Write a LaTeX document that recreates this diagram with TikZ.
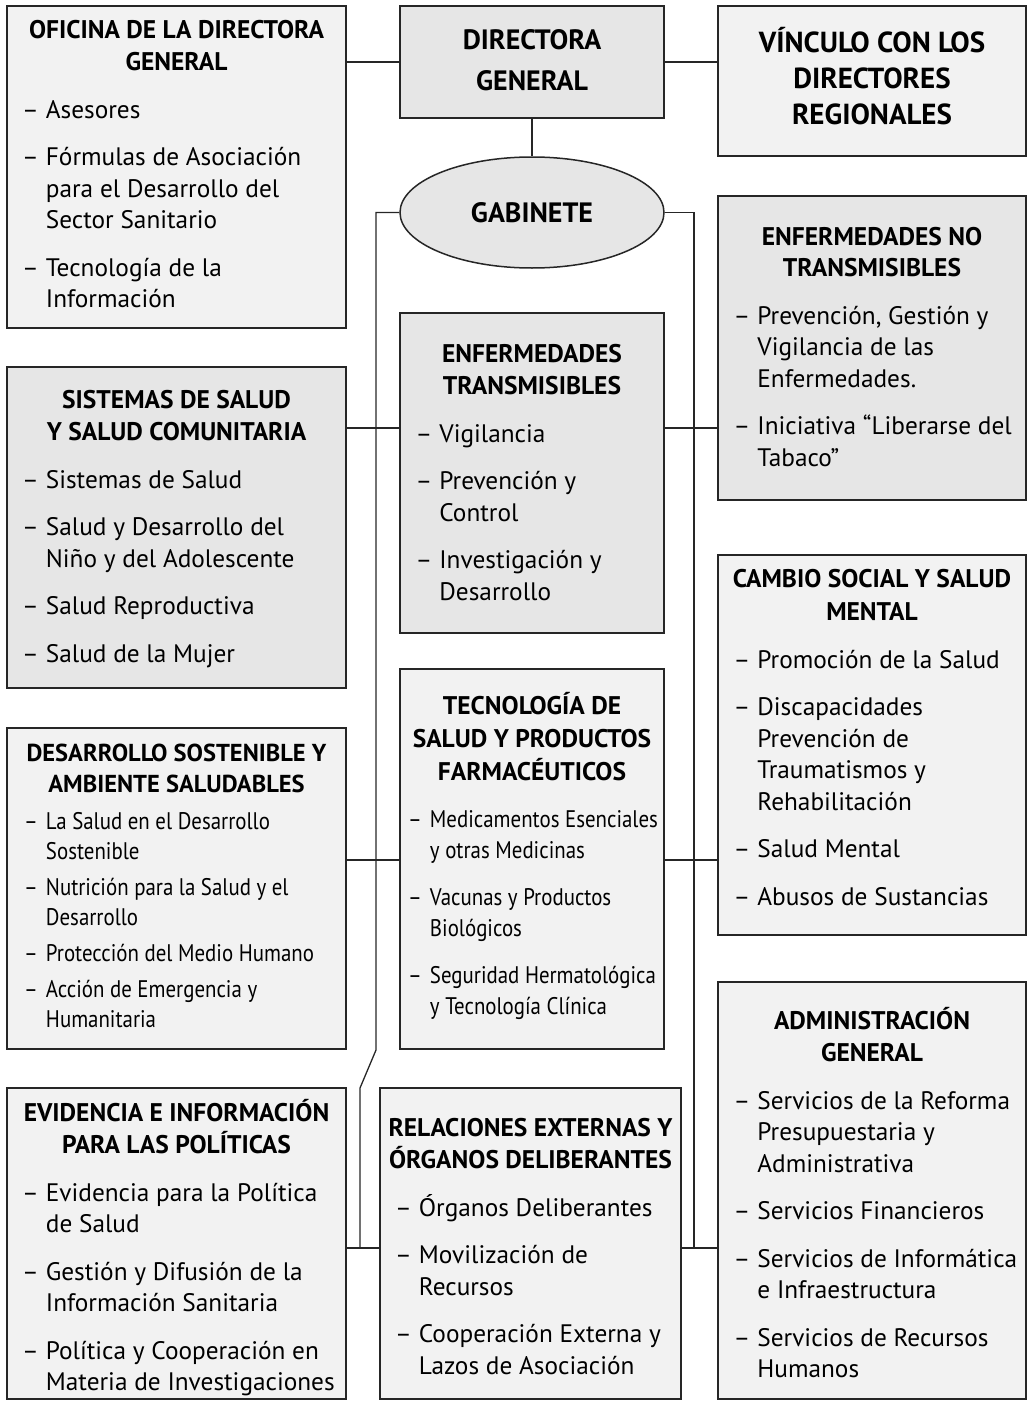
\documentclass[tikz,border=0pt]{standalone}
\usepackage{fontspec}
\setmainfont{PT Sans}
\newfontfamily\condfont{PT Sans}[FakeStretch=0.87]
\usetikzlibrary{shapes.geometric}
\definecolor{dkfill}{HTML}{E6E6E6}
\definecolor{ltfill}{HTML}{F2F2F2}
\newcommand\ttl[1]{\begin{tabular}[t]{@{}c@{}}#1\end{tabular}}
\newcommand\itms[1]{\begin{tabular}[t]{@{}l@{\hspace{7pt}}l@{}}#1\end{tabular}}
\newcommand\citms[1]{\begin{tabular}[t]{@{}l@{\hspace{8pt}}l@{}}#1\end{tabular}}
\newcommand\nx{\\[16pt]}
\begin{document}
\begin{tikzpicture}[x=1pt,y=-1pt,
  box/.style={draw=black!85, line width=1.5pt, rectangle, anchor=north west, inner sep=0pt, outer sep=0pt},
  title/.style={anchor=base, inner sep=0pt, font=\bfseries\fontsize{25.5}{32}\selectfont},
  body/.style={anchor=base west, inner sep=0pt, font=\fontsize{25.3}{31.5}\selectfont},
  cbody/.style={anchor=base west, inner sep=0pt, font=\condfont\fontsize{24}{31.5}\selectfont},
  conn/.style={draw=black!85, line width=1.3pt}]
\useasboundingbox (0,0) rectangle (1027,1402);

% boxes
\node[box, fill=ltfill, minimum width=339pt, minimum height=322pt] (ofi) at (7,6) {};
\node[box, fill=dkfill, minimum width=264pt, minimum height=112pt] (dir) at (400,6) {};
\node[box, fill=ltfill, minimum width=308pt, minimum height=150pt] (vin) at (718,6) {};
\node[ellipse, draw=black!85, line width=1.5pt, fill=dkfill, minimum width=264pt, minimum height=111pt, inner sep=0pt, font=\bfseries\fontsize{28}{32}\selectfont] (gab) at (532,212.5) {GABINETE};
\node[box, fill=dkfill, minimum width=308pt, minimum height=304pt] (ent) at (718,196) {};
\node[box, fill=dkfill, minimum width=339pt, minimum height=321pt] (sis) at (7,367) {};
\node[box, fill=dkfill, minimum width=264pt, minimum height=320pt] (et) at (400,313) {};
\node[box, fill=ltfill, minimum width=264pt, minimum height=380pt] (tec) at (400,669) {};
\node[box, fill=ltfill, minimum width=308pt, minimum height=380pt] (cam) at (718,555) {};
\node[box, fill=ltfill, minimum width=339pt, minimum height=321pt] (des) at (7,728) {};
\node[box, fill=ltfill, minimum width=339pt, minimum height=311pt] (evi) at (7,1088) {};
\node[box, fill=ltfill, minimum width=301pt, minimum height=311pt] (rel) at (380,1088) {};
\node[box, fill=ltfill, minimum width=308pt, minimum height=417pt] (adm) at (718,982) {};

% texts
\node[title] (ofiT) at (176.5,39) {\ttl{OFICINA DE LA DIRECTORA\\GENERAL}};
\node[body] (ofiB) at (22,118) {\itms{– & Asesores\nx – & Fórmulas de Asociación\\ & para el Desarrollo del\\ & Sector Sanitario\nx – & Tecnología de la\\ & Información}};

\node[title, font=\bfseries\fontsize{28}{41}\selectfont] (dirT) at (532,50) {\ttl{DIRECTORA\\GENERAL}};
\node[title, font=\bfseries\fontsize{29}{36}\selectfont] (vinT) at (872,53) {\ttl{VÍNCULO CON LOS\\DIRECTORES\\REGIONALES}};

\node[title, font=\bfseries\fontsize{25.5}{30.5}\selectfont] (entT) at (872,245.5) {\ttl{ENFERMEDADES NO\\TRANSMISIBLES}};
\node[body] (entB) at (733.5,324) {\itms{– & Prevención, Gestión y\\ & Vigilancia de las\\ & Enfermedades.\nx – & Iniciativa “Liberarse del\\ & Tabaco”}};

\node[title] (sisT) at (176.5,408.5) {\ttl{SISTEMAS DE SALUD\\Y SALUD COMUNITARIA}};
\node[body] (sisB) at (22,488) {\itms{– & Sistemas de Salud\nx – & Salud y Desarrollo del\\ & Niño y del Adolescente\nx – & Salud Reproductiva\nx – & Salud de la Mujer}};

\node[title] (etT) at (532,362.5) {\ttl{ENFERMEDADES\\TRANSMISIBLES}};
\node[body] (etB) at (415.5,442) {\itms{– & Vigilancia\nx – & Prevención y\\ & Control\nx – & Investigación y\\ & Desarrollo}};

\node[title, font=\bfseries\fontsize{25.5}{33}\selectfont] (tecT) at (532,714.5) {\ttl{TECNOLOGÍA DE\\SALUD Y PRODUCTOS\\FARMACÉUTICOS}};
\node[cbody] (tecB) at (408,827) {\citms{– & Medicamentos Esenciales\\ & y otras Medicinas\\[15pt] – & Vacunas y Productos\\ & Biológicos\\[15pt] – & Seguridad Hermatológica\\ & y Tecnología Clínica}};

\node[title, font=\bfseries\fontsize{25.5}{33}\selectfont] (camT) at (872,587.5) {\ttl{CAMBIO SOCIAL Y SALUD\\MENTAL}};
\node[body] (camB) at (733.5,668) {\itms{– & Promoción de la Salud\nx – & Discapacidades\\ & Prevención de\\ & Traumatismos y\\ & Rehabilitación\nx – & Salud Mental\nx – & Abusos de Sustancias}};

\node[title, font=\bfseries\fontsize{24.5}{31}\selectfont] (desT) at (176.5,761.5) {\ttl{DESARROLLO SOSTENIBLE Y\\AMBIENTE SALUDABLES}};
\node[cbody, font=\condfont\fontsize{24}{30}\selectfont] (desB) at (24,829) {\citms{– & La Salud en el Desarrollo\\ & Sostenible\\[6pt] – & Nutrición para la Salud y el\\ & Desarrollo\\[6pt] – & Protección del Medio Humano\\[6pt] – & Acción de Emergencia y\\ & Humanitaria}};

\node[title] (eviT) at (176.5,1121.5) {\ttl{EVIDENCIA E INFORMACIÓN\\PARA LAS POLÍTICAS}};
\node[body] (eviB) at (22,1201) {\itms{– & Evidencia para la Política\\ & de Salud\nx – & Gestión y Difusión de la\\ & Información Sanitaria\nx – & Política y Cooperación en\\ & Materia de Investigaciones}};

\node[title] (relT) at (530.5,1136.5) {\ttl{RELACIONES EXTERNAS Y\\ÓRGANOS DELIBERANTES}};
\node[body] (relB) at (395,1216) {\itms{– & Órganos Deliberantes\nx – & Movilización de\\ & Recursos\nx – & Cooperación Externa y\\ & Lazos de Asociación}};

\node[title] (admT) at (872,1029.5) {\ttl{ADMINISTRACIÓN\\GENERAL}};
\node[body] (admB) at (733.5,1109) {\itms{– & Servicios de la Reforma\\ & Presupuestaria y\\ & Administrativa\nx – & Servicios Financieros\nx – & Servicios de Informática\\ & e Infraestructura\nx – & Servicios de Recursos\\ & Humanos}};

% connectors
\coordinate (cL1) at (376,212.5);
\coordinate (cL2) at (376,1050);
\coordinate (cL3) at (360,1088);
\coordinate (cL4) at (360,1248);
\coordinate (cR1) at (694,212.5);
\coordinate (cR2) at (694,1248);
\coordinate (h1) at (0,428);
\coordinate (h2) at (0,860);
\coordinate (h3) at (0,1248);

\draw[conn] (dir.west) -- (dir.west -| ofi.east);
\draw[conn] (dir.east) -- (dir.east -| vin.west);
\draw[conn] (dir.south) -- (gab.north);
\draw[conn] (gab.west) -- (cL1) -- (cL2) -- (cL3) -- (cL4);
\draw[conn] (gab.east) -- (cR1) -- (cR2);
\draw[conn] (sis.east |- h1) -- (et.west |- h1);
\draw[conn] (et.east |- h1) -- (ent.west |- h1);
\draw[conn] (des.east |- h2) -- (tec.west |- h2);
\draw[conn] (tec.east |- h2) -- (cam.west |- h2);
\draw[conn] (evi.east |- h3) -- (rel.west |- h3);
\draw[conn] (rel.east |- h3) -- (adm.west |- h3);
\end{tikzpicture}
\end{document}
